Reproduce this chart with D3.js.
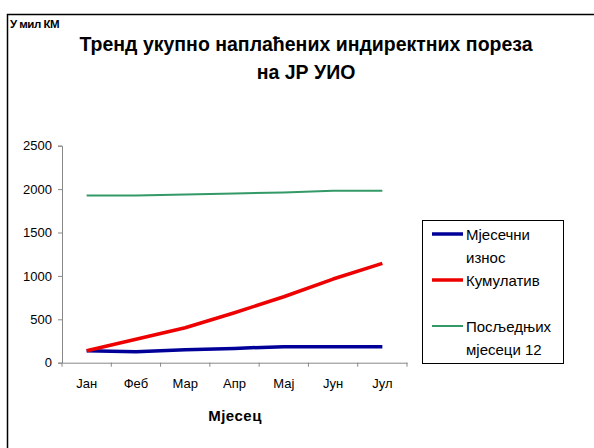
<!DOCTYPE html>
<html>
<head>
<meta charset="utf-8">
<script src="https://d3js.org/d3.v7.min.js"></script>
<style>
body{margin:0;background:#fff;}
svg text{font-family:"Liberation Sans",Arial,sans-serif;}
</style>
</head>
<body>
<script>
// data
const months=["Јан","Феб","Мар","Апр","Мај","Јун","Јул"]
const monthly=[138,125,150,165,185,185,185]
const cumulative=[138,270,403,576,760,964,1145]
const last12=[1925,1925,1937,1950,1962,1980,1980]
const yTicks=[0,500,1000,1500,2000,2500]

const seriesNames=[["Мјесечни","износ"],["Кумулатив"],["Посљедњих","мјесеци 12"]]
const series=[
  {values:monthly,color:"#000099",width:3.5},
  {values:cumulative,color:"#ee0000",width:3.5},
  {values:last12,color:"#339966",width:2}
]

const w=594, h=448
const svg=d3.select("body").append("svg").attr("width",w).attr("height",h)

// outer frame
svg.append("rect").attr("x",7.5).attr("y",14.5).attr("width",600).attr("height",500)
  .attr("fill","none").attr("stroke","#000").attr("stroke-width",1.5)

svg.append("text").attr("x",10).attr("y",28).style("font-size","11.5px").style("font-weight","bold")
  .style("letter-spacing","-0.5px").text("У мил КМ")
svg.append("text").attr("x",306).attr("y",51).attr("text-anchor","middle")
  .style("font-size","19.5px").style("font-weight","bold").text("Тренд укупно наплаћених индиректних пореза")
svg.append("text").attr("x",306).attr("y",79).attr("text-anchor","middle")
  .style("font-size","19.5px").style("font-weight","bold").text("на ЈР УИО")

const x=d3.scaleBand().domain(months).range([62,407])
const y=d3.scaleLinear().domain([0,2500]).range([362.7,145.7])

const yAxis=svg.append("g").attr("transform","translate(62,0)")
  .call(d3.axisLeft(y).tickValues(yTicks).tickFormat(d3.format("d")).tickSize(4).tickPadding(6))
yAxis.selectAll("text").style("font-size","13px").attr("fill","#000")

const xAxis=svg.append("g").attr("transform","translate(0,362.7)")
  .call(d3.axisBottom(x).tickSize(0).tickPadding(16))
xAxis.selectAll("text").style("font-size","13px").attr("fill","#000")
// ticks between categories
xAxis.selectAll(".sep").data(months.concat(["end"])).enter().append("line")
  .attr("x1",(d,i)=>62+i*x.step()).attr("x2",(d,i)=>62+i*x.step())
  .attr("y1",0).attr("y2",4).attr("stroke","#888")
svg.selectAll(".domain").attr("stroke","#888")
svg.selectAll(".tick line").attr("stroke","#888")

svg.append("text").attr("x",235).attr("y",421).attr("text-anchor","middle")
  .style("font-size","15px").style("font-weight","bold").style("letter-spacing","0.5px").text("Мјесец")

const line=d3.line().x((d,i)=>x(months[i])+x.bandwidth()/2).y(d=>y(d))
series.forEach(s=>{
  svg.append("path").datum(s.values).attr("d",line).attr("fill","none")
    .attr("stroke",s.color).attr("stroke-width",s.width).attr("stroke-linejoin","round")
})

// legend
const lg=svg.append("g")
lg.append("rect").attr("x",422.5).attr("y",220.5).attr("width",141).attr("height",143)
  .attr("fill","#fff").attr("stroke","#000").attr("stroke-width",1)
const rows=[240,286,332]
series.forEach((s,i)=>{
  lg.append("line").attr("x1",432).attr("x2",463).attr("y1",rows[i]-6).attr("y2",rows[i]-6)
    .attr("stroke",s.color).attr("stroke-width",s.width)
  seriesNames[i].forEach((t,j)=>{
    lg.append("text").attr("x",466).attr("y",rows[i]+j*23).style("font-size","15px").text(t)
  })
})
</script>
</body>
</html>
